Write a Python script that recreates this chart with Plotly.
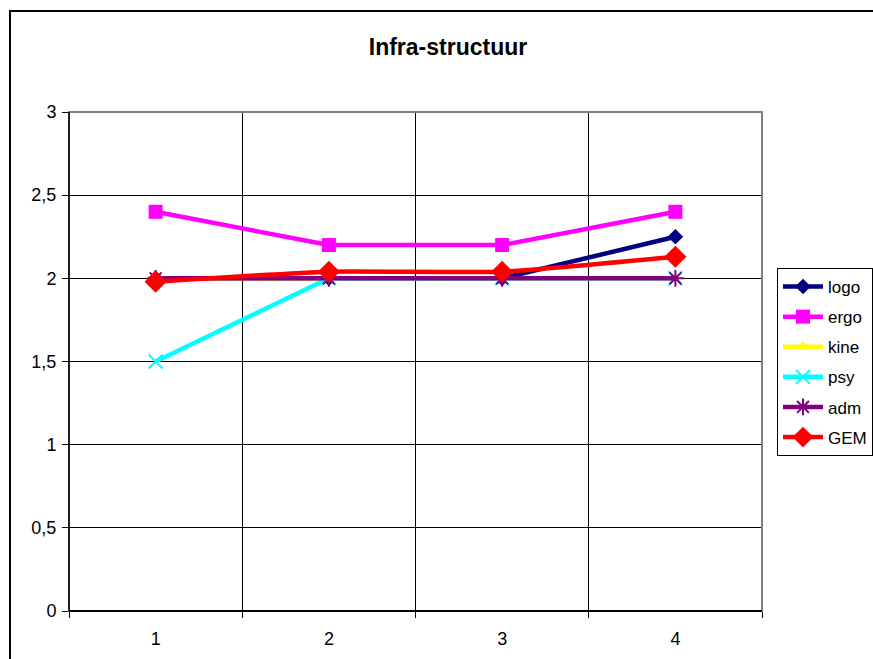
import plotly.graph_objects as go

# Survey scores per category for "Infra-structuur"
categories = [1, 2, 3, 4]
logo = [2, 2, 2, 2.25]
ergo = [2.4, 2.2, 2.2, 2.4]
kine = [2, 2, 2, 2]
psy = [1.5, 2, 2, 2]
adm = [2, 2, 2, 2]
gem = [1.98, 2.04, 2.04, 2.13]

y_ticks = [0, 0.5, 1, 1.5, 2, 2.5, 3]

W, H = 873, 659
L, R, T, B = 69, 111, 112, 48
pw, ph = W - L - R, H - T - B


def px_x(p):
    return (p - L) / pw


def px_y(p):
    return (H - B - p) / ph


series = [
    ("logo", logo, "#000080", dict(symbol="diamond", size=12, color="#000080")),
    ("ergo", ergo, "#FF00FF", dict(symbol="square", size=14, color="#FF00FF")),
    ("kine", kine, "#FFFF00", dict(symbol="triangle-up", size=11, color="#FFFF00")),
    ("psy", psy, "#00FFFF", dict(symbol="x-thin-open", size=14,
                                 line=dict(color="#00FFFF", width=2))),
    ("adm", adm, "#800080", dict(symbol="asterisk-open", size=14,
                                 line=dict(color="#800080", width=2))),
    ("GEM", gem, "#FF0000", dict(symbol="diamond", size=17, color="#FF0000")),
]

fig = go.Figure()
for name, vals, col, mk in series:
    fig.add_trace(go.Scatter(
        x=categories, y=vals, name=name, mode="lines+markers",
        line=dict(color=col, width=4.5,
                  shape="spline" if name == "GEM" else "linear",
                  smoothing=0.5 if name == "GEM" else None),
        marker=mk, legendgroup=name,
    ))

shapes = [
    # outer chart frame
    dict(type="rect", xref="paper", yref="paper",
         x0=px_x(10), x1=px_x(900), y0=px_y(700), y1=px_y(11),
         line=dict(color="black", width=2), layer="below"),
    # plot area border (top/right grey)
    dict(type="rect", xref="paper", yref="paper", x0=0, x1=1, y0=0, y1=1,
         line=dict(color="#808080", width=2), layer="above"),
    # left and bottom axis lines
    dict(type="line", xref="paper", yref="paper", x0=0, x1=0, y0=0, y1=1,
         line=dict(color="black", width=1.5), layer="above"),
    dict(type="line", xref="paper", yref="paper", x0=0, x1=1, y0=0, y1=0,
         line=dict(color="black", width=2), layer="above"),
]

fig.update_layout(
    width=W, height=H,
    margin=dict(l=L, r=R, t=T, b=B, autoexpand=False),
    paper_bgcolor="white", plot_bgcolor="white",
    separators=",.",
    font=dict(family="Liberation Sans, Arial, sans-serif", size=17, color="black"),
    title=dict(text="<b>Infra-structuur</b>", x=448 / W, xref="container",
               xanchor="center", y=1 - 47 / H, yref="container", yanchor="middle",
               font=dict(size=23, color="black")),
    xaxis=dict(
        range=[0.5, 4.5], tickvals=categories, ticktext=[str(c) for c in categories],
        showgrid=False, zeroline=False, showline=False, ticks="",
        tickfont=dict(size=18), ticklabelstandoff=15,
        minor=dict(tickvals=[0.5, 1.5, 2.5, 3.5, 4.5], showgrid=True,
                   gridcolor="black", gridwidth=1, ticks="outside",
                   ticklen=6, tickcolor="black"),
        fixedrange=True,
    ),
    yaxis=dict(
        range=[0, 3], tickvals=y_ticks, showgrid=True, gridcolor="black",
        gridwidth=1, zeroline=False, showline=False, ticks="outside",
        ticklen=6, tickcolor="black", tickfont=dict(size=18),
        ticklabelstandoff=2, tickformat=".1~f", fixedrange=True,
    ),
    legend=dict(
        x=px_x(777), y=px_y(268), xanchor="left", yanchor="top",
        bordercolor="black", borderwidth=1, bgcolor="white",
        font=dict(size=17), itemwidth=40, tracegroupgap=5,
        entrywidth=62, itemclick=False,
    ),
    shapes=shapes,
    showlegend=True,
)

fig.write_html("out.html")
